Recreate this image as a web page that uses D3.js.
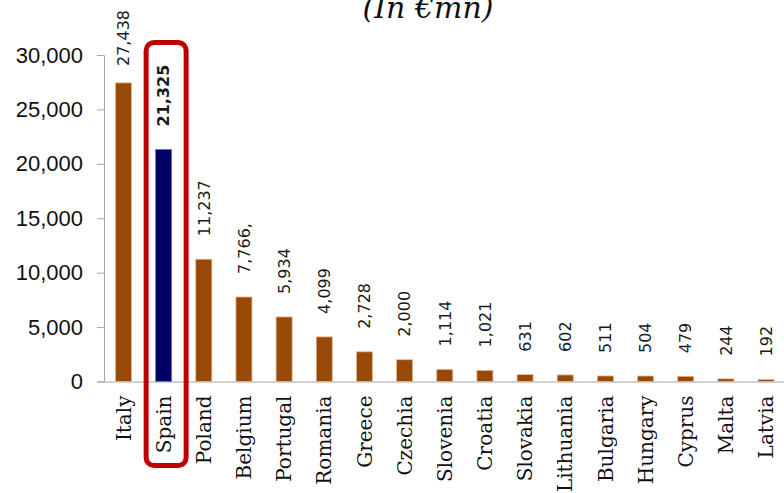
<!DOCTYPE html>
<html>
<head>
<meta charset="utf-8">
<script src="https://cdn.jsdelivr.net/npm/d3@7"></script>
<style>
  html, body { margin: 0; padding: 0; background: #ffffff; }
  svg { display: block; }
</style>
</head>
<body>
<svg id="chart" width="784" height="493"></svg>
<script>
// ---- data ----
const countries = ["Italy","Spain","Poland","Belgium","Portugal","Romania","Greece","Czechia","Slovenia","Croatia","Slovakia","Lithuania","Bulgaria","Hungary","Cyprus","Malta","Latvia"];
const values = [27438,21325,11237,7766,5934,4099,2728,2000,1114,1021,631,602,511,504,479,244,192];
const valueLabels = ["27,438","21,325","11,237","7,766,","5,934","4,099","2,728","2,000","1,114","1,021","631","602","511","504","479","244","192"];
const yTicks = [0,5000,10000,15000,20000,25000,30000];
const highlight = "Spain";
const title = "(In €mn)";

// ---- drawing ----
const svg = d3.select("#chart");
const W = 784, H = 493;
const x0 = 103.4, x1 = 786.1, yTop = 55, yBase = 381.5;

const x = d3.scaleBand().domain(countries).range([x0, x1]).paddingInner(0.6).paddingOuter(0.3);
const y = d3.scaleLinear().domain([0, 30000]).range([yBase, yTop]);

// title
svg.append("text")
  .attr("x", 428).attr("y", 18)
  .attr("text-anchor", "middle")
  .style("font-family", "'DejaVu Serif', serif")
  .style("font-style", "italic")
  .style("font-size", "30px")
  .attr("fill", "#111")
  .text(title);

// y axis
const yAxis = d3.axisLeft(y).tickValues(yTicks).tickFormat(d3.format(",")).tickSizeOuter(0).tickSize(7).tickPadding(14);
const gy = svg.append("g").attr("transform", `translate(${x0 + 0.6},0)`).call(yAxis);
gy.select(".domain").attr("stroke", "#a6a6a6");
gy.selectAll(".tick line").attr("stroke", "#a6a6a6");
gy.selectAll(".tick text")
  .style("font-family", "'Liberation Sans', Arial, sans-serif")
  .style("font-size", "22px")
  .attr("fill", "#111");

// x axis baseline
const xAxis = d3.axisBottom(x).tickSize(0).tickSizeOuter(0).tickPadding(0);
const gx = svg.append("g").attr("transform", `translate(0,${yBase})`).call(xAxis);
gx.select(".domain").attr("stroke", "#a6a6a6").attr("stroke-width", 1.2);
gx.selectAll(".tick text")
  .attr("transform", "rotate(-90)")
  .attr("x", -14).attr("y", 0).attr("dy", "0.36em")
  .attr("text-anchor", "end")
  .style("font-family", "'DejaVu Serif', serif")
  .style("font-size", "20px")
  .attr("fill", "#111");

// bars
svg.append("g").selectAll("rect").data(countries).join("rect")
  .attr("x", d => x(d))
  .attr("width", x.bandwidth())
  .attr("y", (d, i) => y(values[i]))
  .attr("height", (d, i) => yBase - y(values[i]))
  .attr("fill", d => d === highlight ? "#000066" : "#984807")
  .attr("stroke", d => d === highlight ? "#7a7ab0" : "#e8b894")
  .attr("stroke-width", 0.8);

// value labels (rotated)
const lbls = svg.append("g").selectAll("text").data(countries).join("text")
  .attr("text-anchor", "start")
  .attr("dy", "0.36em")
  .style("font-family", "'DejaVu Sans', sans-serif")
  .style("font-size", "16px")
  .style("font-weight", d => d === highlight ? "bold" : "normal")
  .attr("fill", "#1a1a1a")
  .text((d, i) => valueLabels[i]);
lbls.each(function(d, i) {
  const len = this.getComputedTextLength();
  const bottom = Math.max(y(values[i]) - 23, 10 + len);
  const cx = x(d) + x.bandwidth() / 2;
  d3.select(this).attr("transform", `translate(${cx},${bottom}) rotate(-90)`);
});

// highlight box
const bx = x(highlight) + x.bandwidth() / 2;
svg.append("rect")
  .attr("x", bx - 17.5).attr("y", 42.5)
  .attr("width", 40).attr("height", 423)
  .attr("rx", 8).attr("ry", 8)
  .attr("fill", "none")
  .attr("stroke", "#c00000")
  .attr("stroke-width", 5);
</script>
</body>
</html>
